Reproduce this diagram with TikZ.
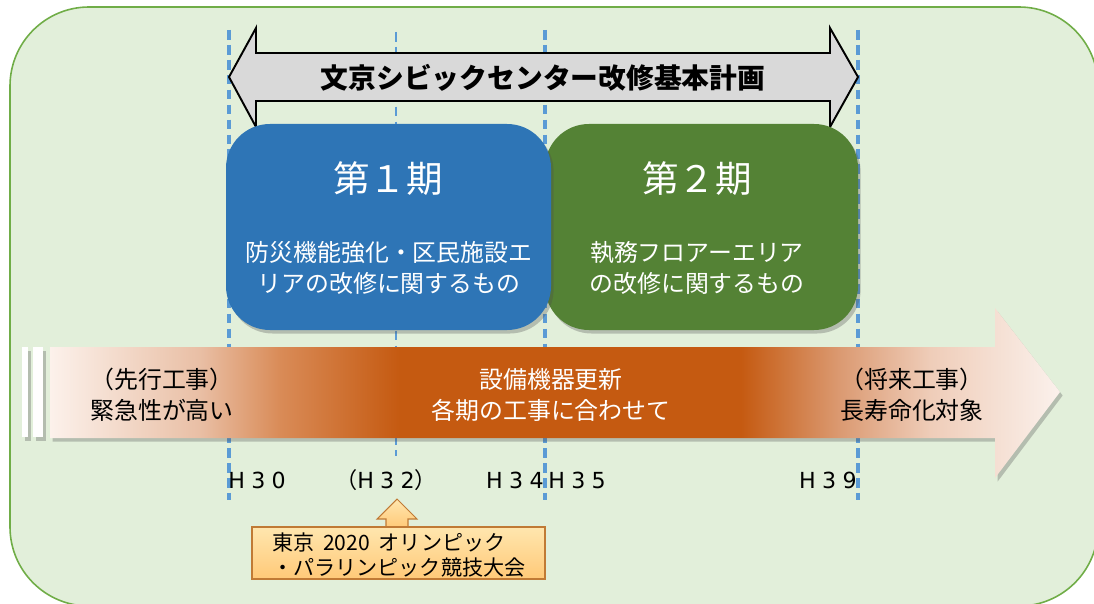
\documentclass[tikz,border=0pt]{standalone}
\usepackage{fontspec}
\setmainfont{Noto Sans CJK JP}
\newfontfamily\yearfam{DejaVu Sans}
\usetikzlibrary{shadows}
\definecolor{bgfill}{HTML}{E2EFDA}
\definecolor{bgedge}{HTML}{70AD47}
\definecolor{dashblue}{HTML}{5B9BD5}
\definecolor{p1blue}{HTML}{2E75B6}
\definecolor{p2green}{HTML}{548235}
\definecolor{arrgray}{HTML}{D9D9D9}
\definecolor{arA}{HTML}{FCF1EB}
\definecolor{arB}{HTML}{E9BFA5}
\definecolor{arC}{HTML}{D98B57}
\definecolor{arD}{HTML}{C55A11}
\definecolor{arE}{HTML}{DB9A72}
\definecolor{arF}{HTML}{EFCDB9}
\definecolor{arG}{HTML}{FBF1EC}
\definecolor{olTop}{HTML}{FFE6AE}
\definecolor{olBot}{HTML}{FFC978}
\definecolor{olEdge}{HTML}{C07A35}
\pgfdeclarehorizontalshading{bigarrow}{100bp}{color(0bp)=(arA); color(25bp)=(arA); color(32.4bp)=(arB); color(36.4bp)=(arC); color(42.3bp)=(arD); color(59.2bp)=(arD); color(64.1bp)=(arE); color(68.6bp)=(arF); color(75bp)=(arG); color(100bp)=(arG)}
\newcommand\yrs{\hspace{3.6pt}}
\begin{document}
\begin{tikzpicture}[x=0.02cm,y=-0.02cm,
  vline/.style={draw=dashblue, line width=2.3pt, dash pattern=on 5.5pt off 3pt},
  vlinethin/.style={draw=dashblue, line width=1.5pt, dash pattern=on 5.5pt off 3pt},
  softshadow/.style={drop shadow={opacity=0.3, shadow xshift=1.5pt, shadow yshift=-2pt, fill=black!70}},
  phase/.style={rounded corners=25pt, softshadow},
  wtxt/.style={text=white, align=center, inner sep=0pt},
  ktxt/.style={text=black, align=center, inner sep=0pt},
  bodyfont/.style={font=\fontsize{13.6pt}{17.5pt}\selectfont},
  yearfont/.style={font=\fontsize{12.6pt}{15pt}\selectfont\yearfam},
]
\useasboundingbox (0,0) rectangle (1094,604);
% background panel
\draw[fill=bgfill, draw=bgedge, line width=0.9pt, rounded corners=45pt] (10,7) rectangle (1098,606);

% dashed guide lines
\draw[vline] (229,30) -- (229,500);
\draw[vlinethin] (396,32) -- (396,456);
\draw[vline] (545,30) -- (545,500);
\draw[vline] (858,30) -- (858,500);

% plan double arrow
\draw[fill=arrgray, draw=black, line width=1.1pt, line join=miter]
  (229,77) -- (256,28) -- (256,53) -- (830,53) -- (830,28) -- (858,77)
  -- (830,127) -- (830,101) -- (256,101) -- (256,127) -- cycle;
\node[ktxt, font=\fontsize{15.8pt}{18pt}\selectfont\bfseries] (plan) at (543,78) {文京シビックセンター改修基本計画};

% phase boxes
\fill[p2green, phase] (545,124) rectangle (858,330);
\fill[p1blue, phase] (226,124) rectangle (551,330);
\node[wtxt, font=\fontsize{20.8pt}{24pt}\selectfont] (p1title) at (388,179) {第１期};
\node[wtxt, bodyfont] (p1body) at (389,268) {防災機能強化・区民施設エ\\リアの改修に関するもの};
\node[wtxt, font=\fontsize{20.8pt}{24pt}\selectfont] (p2title) at (697,179) {第２期};
\node[wtxt, bodyfont] (p2body) at (697,268) {執務フロアーエリア\\の改修に関するもの};

% left stripes
\fill[white, softshadow] (22,347) rectangle (28,437);
\fill[white!96!arA, softshadow] (33,347) rectangle (43,437);

% big timeline arrow
\path[softshadow, shading=bigarrow, shade]
  (50,347) -- (995,347) -- (995,308) -- (1060,392) -- (995,478) -- (995,438) -- (50,438) -- cycle;

\node[ktxt, bodyfont] (pre) at (162,395) {（先行工事）\\緊急性が高い};
\node[wtxt, bodyfont] (mid) at (551,395) {設備機器更新\\各期の工事に合わせて};
\node[ktxt, bodyfont] (fut) at (912,395) {（将来工事）\\長寿命化対象};

% year labels
\node[ktxt, yearfont, anchor=west] (h30) at (228,480) {H\yrs3\yrs0};
\node[ktxt, yearfont] (h32) at (386,480) {{\rmfamily（}H\yrs3\yrs2{\rmfamily）}};
\node[ktxt, yearfont, anchor=east] (h34) at (544,480) {H\yrs3\yrs4};
\node[ktxt, yearfont, anchor=west] (h35) at (548,480) {H\yrs3\yrs5};
\node[ktxt, yearfont, anchor=east] (h39) at (857,480) {H\yrs3\yrs9};

% Olympic box and pointer
\draw[draw=olEdge, line width=0.6pt, top color=olTop, bottom color=olBot]
  (397,499) -- (417,519) -- (408,519) -- (408,528) -- (386,528) -- (386,519) -- (377,519) -- cycle;
\draw[draw=olEdge, line width=0.6pt, top color=olTop, bottom color=olBot] (252,527) rectangle (545,579);
\node[ktxt, align=left, anchor=west, font=\fontsize{12pt}{14.2pt}\selectfont] (olym) at (272,555) {東京\hspace{5pt}2020\hspace{5pt}オリンピック\\・パラリンピック競技大会};
\end{tikzpicture}
\end{document}
